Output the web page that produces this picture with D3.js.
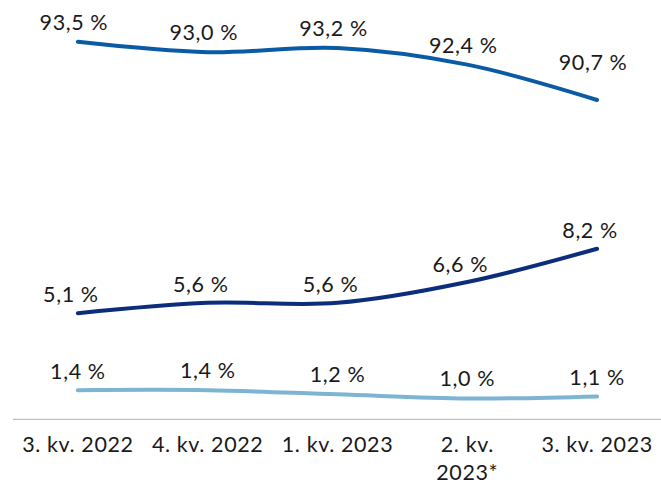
<!DOCTYPE html>
<html>
<head>
<meta charset="utf-8">
<script src="https://cdn.jsdelivr.net/npm/d3@7/dist/d3.min.js"></script>
<style>
  html, body { margin: 0; padding: 0; background: #fff; }
  svg { display: block; }
  text { font-family: Lato, "Noto Sans", sans-serif; fill: #1a1a1a; letter-spacing: 0.6px; }
</style>
</head>
<body>
<svg id="chart" width="661" height="482"></svg>
<script>
// Quarterly shares, in percent
const quarters = ["3. kv. 2022", "4. kv. 2022", "1. kv. 2023", "2. kv. 2023*", "3. kv. 2023"];
const seriesTop = [93.5, 93.0, 93.2, 92.4, 90.7];
const seriesMid = [5.1, 5.6, 5.6, 6.6, 8.2];
const seriesLow = [1.4, 1.4, 1.2, 1.0, 1.1];

const x = d3.scaleBand().domain(quarters).range([13, 662]).padding(0);
const xc = q => x(q) + x.bandwidth() / 2;

// Primary axis for the two small shares, secondary axis for the large one
const y1 = d3.scaleLinear().domain([0, 20]).range([419.3, 3.3]);
const y2 = d3.scaleLinear().domain([75.35, 95.35]).range([419.3, 3.3]);

const series = [
  { values: seriesTop, y: y2, color: "#0a5ba6", dx: -4, lift: [12, 12, 12, 12, 30] },
  { values: seriesMid, y: y1, color: "#0b2d7c", dx: -7, lift: [11, 11, 11, 10, 11] },
  { values: seriesLow, y: y1, color: "#7db4d4", dx: 0, lift: [11, 12, 12, 13, 11] }
];

const fmt = v => d3.format(".1f")(v).replace(".", ",") + " %";

const svg = d3.select("#chart");

// Baseline
svg.append("line")
  .attr("x1", x.range()[0]).attr("x2", x.range()[1])
  .attr("y1", y1(0)).attr("y2", y1(0))
  .attr("stroke", "#bfbfbf").attr("stroke-width", 1.3);

series.forEach(s => {
  const pts = s.values.map((v, i) => [xc(quarters[i]), s.y(v)]);
  svg.append("path")
    .attr("d", d3.line().curve(d3.curveCatmullRom.alpha(0.5))(pts))
    .attr("fill", "none")
    .attr("stroke", s.color)
    .attr("stroke-width", 4)
    .attr("stroke-linecap", "round");

  svg.selectAll(null).data(s.values).enter().append("text")
    .attr("x", (v, i) => xc(quarters[i]) + s.dx)
    .attr("y", (v, i) => s.y(v) - s.lift[i])
    .attr("text-anchor", "middle")
    .attr("font-size", 21.5)
    .text(fmt);
});

// Category labels, wrapped where needed
const xAxis = svg.append("g");
quarters.forEach(q => {
  const lines = q === "2. kv. 2023*" ? ["2. kv.", "2023*"] : [q];
  const t = xAxis.append("text")
    .attr("text-anchor", "middle")
    .attr("font-size", 21.5)
    .attr("x", xc(q))
    .attr("y", 451.5);
  lines.forEach((l, i) => {
    t.append("tspan").attr("x", xc(q)).attr("dy", i === 0 ? 0 : 28).text(l);
  });
});
</script>
</body>
</html>
